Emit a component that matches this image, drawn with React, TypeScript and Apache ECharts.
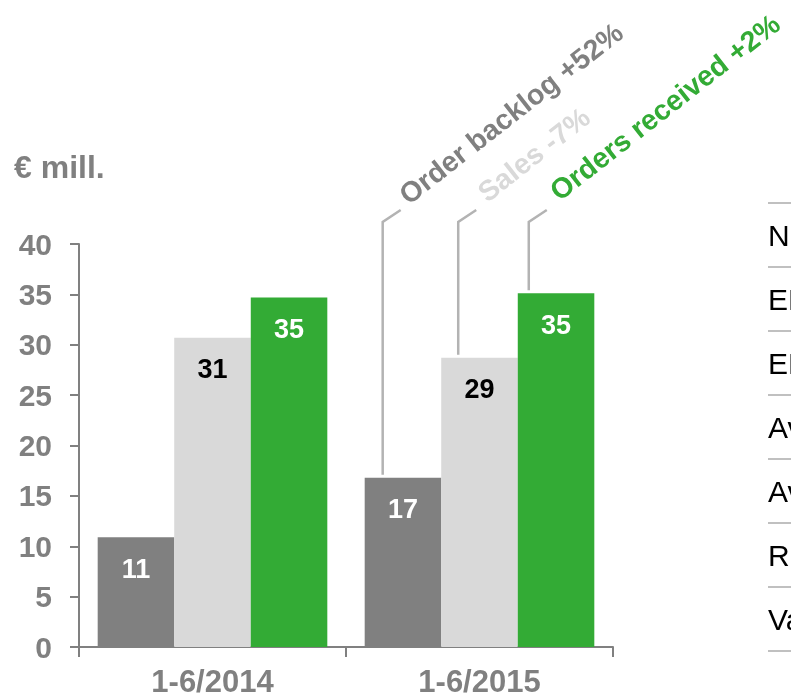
import React, { useEffect, useRef } from 'react';
import * as echarts from 'echarts';

const categories = ['1-6/2014', '1-6/2015'];
const orderBacklog = [10.9, 16.8];
const sales = [30.7, 28.7];
const ordersReceived = [34.7, 35.1];
const seriesNames = ['Order backlog', 'Sales', 'Orders received'];
const changeLabels = ['Order backlog +52%', 'Sales -7%', 'Orders received +2%'];
const yMin = 0;
const yMax = 40;
const yInterval = 5;
const unitLabel = '€ mill.';
const tableRows = ['Net sales', 'EBITDA', 'EBIT', 'Average employees', 'Average capital', 'ROCE', 'Value added'];

const GRAY = '#808080';
const LIGHT = '#d9d9d9';
const GREEN = '#33ab35';
const LEADER = '#b3b3b3';
const FONT = '"Liberation Sans", Arial, sans-serif';

export default function App() {
  const ref = useRef<HTMLDivElement>(null);

  useEffect(() => {
    if (!ref.current) return;
    const chart = echarts.init(ref.current, undefined, { renderer: 'svg' });
    const colors = [GRAY, LIGHT, GREEN];
    const labelColors = ['#ffffff', '#000000', '#ffffff'];
    const data = [orderBacklog, sales, ordersReceived];
    const catGapPct = 14;

    chart.setOption({
      animation: false,
      grid: { left: 79, right: 178, top: 244, bottom: 52, containLabel: false },
      xAxis: {
        type: 'category',
        data: categories,
        axisLine: { lineStyle: { color: GRAY, width: 2 } },
        axisTick: { show: true, length: 10, lineStyle: { color: GRAY, width: 2 } },
        axisLabel: { fontSize: 31, fontWeight: 'bold', color: GRAY, margin: 19, fontFamily: FONT },
      },
      yAxis: {
        type: 'value',
        min: yMin,
        max: yMax,
        interval: yInterval,
        splitLine: { show: false },
        axisLine: { show: true, lineStyle: { color: GRAY, width: 2 } },
        axisTick: { show: true, length: 9, lineStyle: { color: GRAY, width: 2 } },
        axisLabel: { fontSize: 30, fontWeight: 'bold', color: GRAY, margin: 27, fontFamily: FONT },
      },
      series: data.map((d, i) => ({
        type: 'bar',
        name: seriesNames[i],
        data: d,
        barGap: 0,
        barCategoryGap: catGapPct + '%',
        itemStyle: { color: colors[i] },
        label: {
          show: true,
          position: 'insideTop',
          distance: 18,
          fontSize: 27,
          fontWeight: 'bold',
          fontFamily: FONT,
          color: labelColors[i],
          formatter: (p: any) => String(Math.round(p.value)),
        },
      })),
    });

    // leader lines and change labels, positioned from the chart's own scales
    const c0 = chart.convertToPixel({ xAxisIndex: 0, yAxisIndex: 0 }, [0, 0]) as number[];
    const c1 = chart.convertToPixel({ xAxisIndex: 0, yAxisIndex: 0 }, [1, 0]) as number[];
    const catW = c1[0] - c0[0];
    const bw = (catW * (1 - catGapPct / 100)) / 3;
    const theta = (38 * Math.PI) / 180;
    const elbowY = 222;
    const lineOffsets = [18, 17, 11];
    const textAlong = [9, 13, 15];
    const textColors = [GRAY, LIGHT, GREEN];

    const elements: any[] = [];
    elements.push({
      type: 'text',
      left: 14,
      top: 151,
      style: { text: unitLabel, fill: GRAY, font: `bold 32px ${FONT}` },
    });

    data.forEach((d, i) => {
      const top = chart.convertToPixel({ xAxisIndex: 0, yAxisIndex: 0 }, [1, d[1]]) as number[];
      const left = c1[0] - 1.5 * bw + i * bw;
      const lx = left + lineOffsets[i];
      const ex = lx + 18;
      const ey = elbowY - 12;
      elements.push({
        type: 'polyline',
        shape: { points: [[lx, top[1] - 3], [lx, elbowY], [ex, ey]] },
        style: { stroke: LEADER, lineWidth: 2.5, fill: null },
      });
      const along = textAlong[i];
      const down = 6;
      const ox = ex + along * Math.cos(theta) + down * Math.sin(theta);
      const oy = ey - along * Math.sin(theta) + down * Math.cos(theta);
      elements.push({
        type: 'text',
        x: ox,
        y: oy,
        rotation: theta,
        style: {
          text: changeLabels[i],
          fill: textColors[i],
          font: `bold 28.5px ${FONT}`,
          textAlign: 'left',
          textVerticalAlign: 'bottom',
        },
      });
    });

    // right-hand key figures table (clipped by the picture edge, as in the reference)
    for (let k = 0; k <= tableRows.length; k++) {
      elements.push({
        type: 'line',
        shape: { x1: 768, y1: 203 + 64 * k, x2: 800, y2: 203 + 64 * k },
        style: { stroke: '#c0c0c0', lineWidth: 2 },
      });
    }
    tableRows.forEach((t, k) => {
      elements.push({
        type: 'text',
        x: 768,
        y: 235 + 64 * k,
        style: { text: t, fill: '#000000', font: `30px ${FONT}`, textAlign: 'left', textVerticalAlign: 'middle' },
      });
    });

    chart.setOption({ graphic: { elements } });

    return () => chart.dispose();
  }, []);

  return <div ref={ref} style={{ position: 'fixed', left: 0, top: 0, width: 791, height: 699 }} />;
}
